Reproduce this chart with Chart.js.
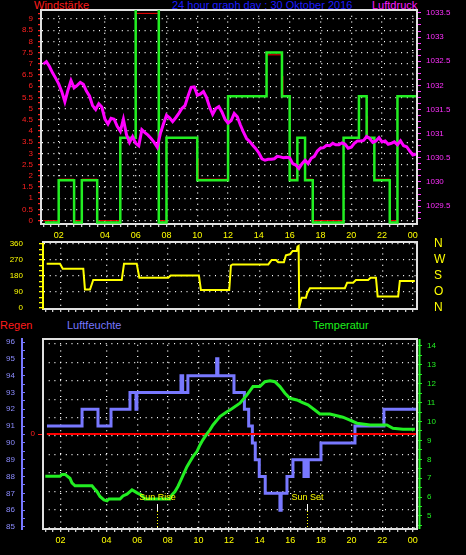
<!DOCTYPE html>
<html>
<head>
<meta charset="utf-8">
<script src="https://cdn.jsdelivr.net/npm/chart.js@4/dist/chart.umd.min.js"></script>
<style>
  html, body { margin: 0; padding: 0; background: #000; }
  body { width: 466px; height: 555px; position: relative; overflow: hidden; font-family: "Liberation Sans", Arial, sans-serif; }
  canvas { position: absolute; left: 0; }
  .lbl { position: absolute; font-size: 11px; line-height: 11px; white-space: nowrap; }
</style>
</head>
<body>
<div class="lbl" style="left:34px;top:0;color:#ff1c1c">Windstärke</div>
<div class="lbl" style="left:172px;top:0;color:#1c1cff">24 hour graph day : 30 Oktober 2016</div>
<div class="lbl" style="left:372px;top:0;color:#ff1cff">Luftdruck</div>
<div class="lbl" style="left:0;top:320px;color:#ff1c1c">Regen</div>
<div class="lbl" style="left:67px;top:320px;color:#7878ff">Luftfeuchte</div>
<div class="lbl" style="left:313px;top:320px;color:#1cf01c">Temperatur</div>

<canvas id="cTop" width="466" height="244" style="top:0"></canvas>
<canvas id="cDir" width="466" height="111" style="top:220px"></canvas>
<canvas id="cBot" width="466" height="240" style="top:315px"></canvas>

<script>
// ==============================
// DATA (hours of the day on x)
// ==============================
const hourTicks  = [1, 4, 6, 8, 10, 12, 14, 16, 18, 20, 22, 24];
const hourLabels = ["02", "04", "06", "08", "10", "12", "14", "16", "18", "20", "22", "00"];

// wind, green = gusts, red = mean (step changes)
const windTimes = [0.1, 1.0, 2.0, 2.5, 3.5, 5.0, 6.0, 7.5, 8.0, 10.0, 12.0, 14.5, 15.5, 16.0, 16.5, 17.0, 17.5, 19.5, 20.5, 21.0, 21.5, 22.5, 23.0, 24.2];
const windGust  = [-0.08, 1.8, -0.08, 1.8, -0.08, 3.7, 11.1, -0.08, 3.7, 1.8, 5.55, 7.5, 5.55, 1.8, 3.7, 1.8, -0.08, 3.7, 5.55, 3.7, 1.8, -0.08, 5.55, 5.55];
const windAvgTimes = [0.0, 1.0, 2.0, 2.5, 3.5, 5.0, 6.0, 7.5, 8.0, 10.0, 10.06, 12.0, 14.5, 15.5, 15.56, 16.0, 16.5, 17.0, 17.5, 19.5, 20.5, 21.0, 21.06, 21.5, 22.5, 23.0, 24.2];
const windAvg      = [0, 1.85, 0, 1.85, 0, 3.7, 9.25, 0, 3.7, 2.75, 1.85, 5.55, 7.4, 6.45, 5.55, 1.85, 3.7, 1.85, 0, 3.7, 5.55, 4.66, 3.7, 1.85, 0, 5.55, 5.55];

// air pressure, one reading every 0.2 h
const pressureStep = 0.2;
const pressure = [
  1032.44, 1032.49, 1032.39, 1032.26, 1032.15, 1032.03, 1031.87, 1031.66, 1031.90, 1032.10,
  1031.95, 1032.00, 1032.06, 1032.02, 1031.88, 1031.78, 1031.58, 1031.50, 1031.62, 1031.55,
  1031.30, 1031.20, 1031.32, 1031.30, 1031.15, 1031.05, 1031.30, 1030.98, 1030.82, 1030.94,
  1030.80, 1030.75, 1031.08, 1031.02, 1030.97, 1030.90, 1030.82, 1030.72, 1031.00, 1031.20,
  1031.38, 1031.33, 1031.25, 1031.33, 1031.42, 1031.52, 1031.58, 1031.78, 1031.96, 1031.97,
  1031.80, 1031.82, 1031.87, 1031.75, 1031.55, 1031.40, 1031.52, 1031.56, 1031.45, 1031.30,
  1031.22, 1031.27, 1031.42, 1031.35, 1031.18, 1031.03, 1030.90, 1030.84, 1030.76, 1030.69,
  1030.60, 1030.48, 1030.45, 1030.47, 1030.47, 1030.48, 1030.53, 1030.52, 1030.50, 1030.51,
  1030.50, 1030.38, 1030.35, 1030.28, 1030.38, 1030.45, 1030.38, 1030.49, 1030.53, 1030.64,
  1030.70, 1030.71, 1030.76, 1030.75, 1030.80, 1030.77, 1030.77, 1030.81, 1030.78, 1030.70,
  1030.72, 1030.80, 1030.85, 1030.85, 1030.86, 1030.94, 1030.90, 1030.82, 1030.85, 1030.92,
  1030.83, 1030.85, 1030.78, 1030.80, 1030.83, 1030.77, 1030.85, 1030.75, 1030.73, 1030.64,
  1030.56, 1030.58
];

// wind direction (degrees)
const dirTimes = [0.09, 0.96, 1.14, 2.48, 2.59, 2.92, 3.13, 4.99, 5.14, 5.97, 6.14, 8.03, 8.19, 10.03, 10.16, 12.01, 12.12, 12.23, 14.56, 14.78, 15.06, 15.21, 15.58, 15.71, 15.97, 16.15, 16.41, 16.47, 16.54, 16.58, 16.74, 17.02, 17.1, 17.28, 19.56, 19.71, 20.1, 20.28, 21.08, 21.24, 21.59, 21.7, 23.04, 23.15, 24.13];
const dirDeg   = [249, 249, 221, 221, 104, 104, 157, 157, 249, 249, 170, 170, 182, 182, 101, 101, 239, 245, 245, 270, 270, 257, 257, 296, 302, 321, 321, 345, 349, 4, 58, 58, 83, 111, 111, 142, 142, 157, 157, 170, 170, 64, 64, 152, 152];
const dirTicks   = [0, 90, 180, 270, 360];
const dirLetters = ["N", "O", "S", "W", "N"];

// humidity (%), step changes
const humTimes = [0.11, 2.4, 3.44, 4.29, 5.53, 5.92, 5.98, 8.86, 8.97, 9.31, 11.19, 11.27, 12.32, 13.0, 13.28, 13.52, 13.71, 13.97, 14.36, 15.32, 15.4, 15.78, 16.17, 16.89, 16.96, 17.0, 17.07, 17.1, 17.17, 18.0, 20.22, 22.11, 24.2];
const humVals  = [91, 92, 91, 92, 93, 92, 93, 94, 93, 94, 95, 94, 93, 92, 91, 90, 89, 88, 87, 86, 87, 88, 89, 88, 89, 88, 89, 88, 89, 90, 91, 92, 92];

// temperature (°C)
const tempTimes = [0.0, 0.96, 1.09, 1.29, 1.61, 1.74, 1.94, 3.05, 3.18, 3.37, 3.57, 3.83, 4.03, 4.16, 4.88, 5.07, 5.33, 5.53, 5.66, 5.86, 6.05, 6.25, 6.51, 8.14, 8.27, 8.47, 8.66, 8.86, 9.05, 9.25, 9.45, 9.64, 9.9, 10.1, 10.29, 10.55, 10.75, 10.95, 11.4, 11.86, 12.06, 12.71, 13.17, 13.56, 14.01, 14.34, 14.67, 14.99, 15.32, 15.65, 15.97, 16.43, 16.76, 17.15, 17.6, 17.93, 18.58, 19.04, 19.43, 19.89, 20.35, 21.2, 22.3, 22.7, 23.35, 24.13];
const tempVals  = [7.1, 7.1, 7.2, 7.2, 7.0, 6.75, 6.6, 6.6, 6.47, 6.3, 6.03, 5.85, 5.8, 5.9, 5.9, 6.06, 6.15, 6.29, 6.38, 6.29, 6.2, 6.12, 5.9, 5.9, 6.12, 6.29, 6.56, 6.91, 7.26, 7.61, 7.88, 8.14, 8.41, 8.76, 9.03, 9.35, 9.56, 9.82, 10.26, 10.52, 10.61, 10.97, 11.41, 11.85, 11.85, 12.11, 12.16, 12.11, 11.85, 11.5, 11.23, 11.14, 11.02, 10.88, 10.61, 10.4, 10.4, 10.31, 10.23, 10.08, 9.91, 9.82, 9.82, 9.64, 9.59, 9.59];

// rain (mm)
const rainTimes = [0.1, 24.2];
const rainVals  = [0, 0];

const sunRise = 7.32;
const sunSet  = 17.07;

// ==============================
// HELPERS
// ==============================
const $ = (id) => document.getElementById(id);
const X_MIN = -0.15;
const X_MAX = 24.27;
const DOTS = [1, 4.7];
const NONE = "rgba(0,0,0,0)";

function pts(xs, ys){ return xs.map((x, i) => ({ x, y: ys[i] })); }

function onStep(v, step){ return Math.abs(v / step - Math.round(v / step)) < 1e-6; }

function everyStep(step){
  return (scale) => {
    const out = [];
    const first = Math.ceil(scale.min / step - 1e-9);
    const last = Math.floor(scale.max / step + 1e-9);
    for (let i = first; i <= last; i++) out.push({ value: +(i * step).toFixed(6) });
    scale.ticks = out;
  };
}

function fixWidth(w){ return (s) => { s.width = w; }; }

function hourLabel(v){
  const i = hourTicks.indexOf(v);
  return i < 0 ? "" : hourLabels[i];
}

function timeAxis(withLabels, height){
  return {
    type: "linear",
    position: "bottom",
    min: X_MIN,
    max: X_MAX,
    afterBuildTicks: everyStep(0.5),
    afterFit: (s) => { s.height = height; },
    ticks: {
      display: withLabels,
      autoSkip: false,
      maxRotation: 0,
      color: "#ffff00",
      font: { size: 9 },
      padding: 3,
      callback: (v) => hourLabel(v)
    },
    grid: {
      color: (c) => (c.tick && hourLabel(c.tick.value) ? "#ffffff" : NONE),
      lineWidth: 1.3,
      tickColor: "#cccccc",
      tickLength: 3
    },
    border: { color: "#e0e0e0", width: 2, dash: DOTS }
  };
}

function baseOptions(){
  return {
    responsive: false,
    animation: false,
    devicePixelRatio: 1,
    elements: { point: { radius: 0 }, line: { tension: 0, borderJoinStyle: "miter" } },
    plugins: { legend: { display: false }, tooltip: { enabled: false } }
  };
}

const framePlugin = {
  id: "frame",
  beforeDatasetsDraw(chart, args, opts){
    const { ctx, chartArea: a } = chart;
    const side = (color, x1, y1, x2, y2) => {
      if (!color) return;
      ctx.strokeStyle = color;
      ctx.beginPath();
      ctx.moveTo(x1, y1);
      ctx.lineTo(x2, y2);
      ctx.stroke();
    };
    ctx.save();
    ctx.lineWidth = 2;
    side(opts.top, a.left - 1, a.top, a.right + 1, a.top);
    side(opts.right, a.right, a.top, a.right, a.bottom + 1);
    side(opts.left, a.left, a.top, a.left, a.bottom + 1);
    side(opts.axisRight, a.right + 2.5, a.top, a.right + 2.5, a.bottom);
    ctx.restore();
  }
};

const sunPlugin = {
  id: "sun",
  afterDatasetsDraw(chart){
    const { ctx, chartArea: a, scales } = chart;
    [[sunRise, "Sun Rise"], [sunSet, "Sun Set"]].forEach(([t, label]) => {
      const px = Math.round(scales.x.getPixelForValue(t)) + 0.5;
      ctx.save();
      ctx.lineWidth = 1;
      ctx.strokeStyle = "#ffffff";
      ctx.beginPath();
      ctx.moveTo(px, a.bottom - 25);
      ctx.lineTo(px, a.bottom - 18);
      ctx.stroke();
      ctx.strokeStyle = "#ffff00";
      ctx.setLineDash([1, 2]);
      ctx.beginPath();
      ctx.moveTo(px, a.bottom - 18);
      ctx.lineTo(px, a.bottom);
      ctx.stroke();
      ctx.setLineDash([]);
      ctx.fillStyle = "#ffff00";
      ctx.font = '9px "Liberation Sans", Arial, sans-serif';
      ctx.textAlign = "center";
      ctx.textBaseline = "middle";
      ctx.fillText(label, px, a.bottom - 31);
      ctx.restore();
    });
  }
};

Chart.defaults.font.family = '"Liberation Sans", Arial, sans-serif';

// ==============================
// WIND + PRESSURE
// ==============================
const topOpts = baseOptions();
topOpts.layout = { padding: { top: 10 } };
topOpts.plugins.frame = { top: "#e0e0e0", right: "#e0e0e0" };
topOpts.scales = {
  x: timeAxis(true, 20),
  y: {
    position: "left",
    min: -0.15,
    max: 9.4,
    afterBuildTicks: everyStep(0.25),
    afterFit: fixWidth(41),
    ticks: { color: "#ff2020", font: { size: 8 }, padding: 5, autoSkip: false,
      callback: (v) => (onStep(v, 0.5) ? String(v) : "") },
    grid: { color: (c) => (c.tick && onStep(c.tick.value, 0.5) ? "#ffffff" : NONE), lineWidth: 1.3,
      tickColor: "#ff2020", tickLength: 3 },
    border: { color: "#e0e0e0", width: 2, dash: DOTS }
  },
  p: {
    position: "right",
    min: 1029.13,
    max: 1033.56,
    afterBuildTicks: everyStep(0.125),
    afterFit: fixWidth(49),
    ticks: { color: "#ff30ff", font: { size: 8 }, padding: 5, autoSkip: false,
      callback: (v) => (onStep(v, 0.5) ? String(v) : "") },
    grid: { drawOnChartArea: false, tickColor: "#ff30ff", tickLength: 4 },
    border: { display: false }
  }
};

new Chart($("cTop"), {
  type: "line",
  data: {
    datasets: [
      { data: pts(pressure.map((_, i) => i * pressureStep), pressure), yAxisID: "p", borderColor: "#ff00ff", borderWidth: 3 },
      { data: pts(windTimes, windGust), yAxisID: "y", borderColor: "#22ee22", borderWidth: 2.5, stepped: true },
      { data: pts(windAvgTimes, windAvg), yAxisID: "y", borderColor: "#ff0000", borderWidth: 1, stepped: true }
    ]
  },
  options: topOpts,
  plugins: [framePlugin]
});

// ==============================
// WIND DIRECTION
// ==============================
const dirOpts = baseOptions();
dirOpts.layout = { padding: { top: 22 } };
dirOpts.plugins.frame = { top: "#e0e0e0", right: "#e0e0e0" };
dirOpts.scales = {
  x: timeAxis(false, 22),
  y: {
    position: "left",
    min: -6,
    max: 371,
    afterBuildTicks: everyStep(30),
    afterFit: fixWidth(43),
    ticks: { color: "#ffff00", font: { size: 8 }, padding: 16, autoSkip: false,
      callback: (v) => (onStep(v, 90) ? String(v) : "") },
    grid: { color: (c) => (c.tick && c.tick.value > 0 && onStep(c.tick.value, 90) ? "#ffffff" : NONE), lineWidth: 1.3,
      tickColor: "#ffff00", tickLength: 4 },
    border: { color: "#ffff00", width: 2, dash: DOTS }
  },
  dir: {
    position: "right",
    min: -6,
    max: 371,
    afterBuildTicks: (s) => { s.ticks = dirTicks.map((v) => ({ value: v })); },
    afterFit: fixWidth(49),
    ticks: { color: "#ffff00", font: { size: 12 }, padding: 0, autoSkip: false, callback: (v, i) => dirLetters[i] },
    grid: { display: false, drawTicks: true, tickLength: 17 },
    border: { display: false }
  }
};

new Chart($("cDir"), {
  type: "line",
  data: {
    datasets: [
      { data: pts(dirTimes, dirDeg), yAxisID: "y", borderColor: "#ffff00", borderWidth: 2 }
    ]
  },
  options: dirOpts,
  plugins: [framePlugin]
});

// ==============================
// RAIN / HUMIDITY / TEMPERATURE
// ==============================
const botOpts = baseOptions();
botOpts.layout = { padding: { top: 24 } };
botOpts.plugins.frame = { top: "#e0e0e0", right: "#e0e0e0", left: "#e0e0e0", axisRight: "#22ee22" };
botOpts.scales = {
  x: timeAxis(true, 26),
  hum: {
    position: "left",
    weight: 2,
    min: 84.88,
    max: 96.18,
    afterBuildTicks: everyStep(0.5),
    afterFit: fixWidth(22),
    ticks: { color: "#8c8cff", font: { size: 8 }, padding: 10, autoSkip: false,
      callback: (v) => (onStep(v, 1) ? String(v) : "") },
    grid: { drawOnChartArea: false, tickColor: "#7878ff", tickLength: -3 },
    border: { color: "#7878ff", width: 2 }
  },
  rain: {
    position: "left",
    weight: 1,
    min: -1,
    max: 1,
    afterBuildTicks: (s) => { s.ticks = [{ value: 0 }]; },
    afterFit: fixWidth(21),
    ticks: { color: "#ff2020", font: { size: 8 }, padding: 3, callback: (v) => String(v) },
    grid: { drawOnChartArea: false, tickColor: "#ff2020", tickLength: 5 },
    border: { display: false }
  },
  g: {
    position: "left",
    weight: 0,
    min: -0.05,
    max: 10.27,
    afterBuildTicks: everyStep(1),
    afterFit: fixWidth(0),
    ticks: { display: false },
    grid: { color: "#ffffff", lineWidth: 1.3, drawTicks: false },
    border: { display: false, dash: DOTS }
  },
  temp: {
    position: "right",
    min: 4.31,
    max: 14.37,
    afterBuildTicks: everyStep(0.5),
    afterFit: fixWidth(49),
    ticks: { color: "#22ee22", font: { size: 8 }, padding: 5, autoSkip: false,
      callback: (v) => (onStep(v, 1) ? String(v) : "") },
    grid: { drawOnChartArea: false, tickColor: "#22ee22", tickLength: 5 },
    border: { display: false }
  }
};

new Chart($("cBot"), {
  type: "line",
  data: {
    datasets: [
      { data: pts(tempTimes, tempVals), yAxisID: "temp", borderColor: "#22ee22", borderWidth: 3 },
      { data: pts(rainTimes, rainVals), yAxisID: "rain", borderColor: "#ff0000", borderWidth: 2 },
      { data: pts(humTimes, humVals), yAxisID: "hum", borderColor: "#7878ff", borderWidth: 3, stepped: true }
    ]
  },
  options: botOpts,
  plugins: [framePlugin, sunPlugin]
});
</script>
</body>
</html>
